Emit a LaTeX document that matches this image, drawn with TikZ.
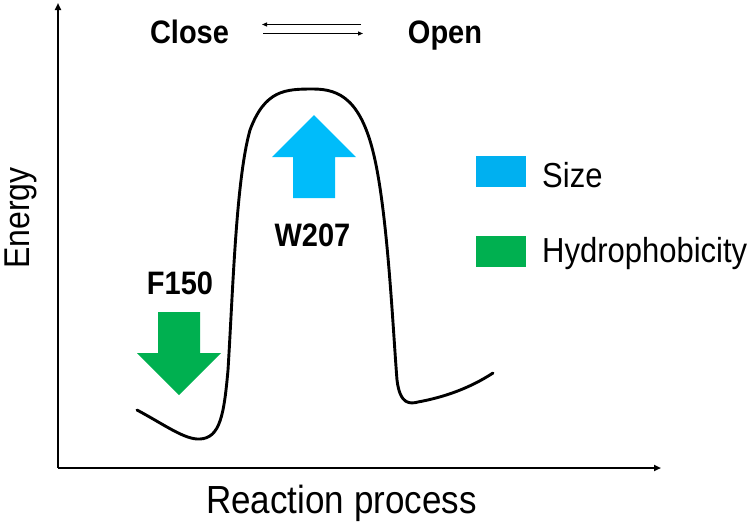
\documentclass[tikz,border=0pt]{standalone}
\usepackage{fontspec}
\usepackage{graphicx}
\setmainfont{Liberation Sans}
\usetikzlibrary{arrows.meta}
\definecolor{arrowblue}{HTML}{00BCFA}
\definecolor{legblue}{HTML}{00B0F0}
\definecolor{leggreen}{HTML}{00B050}
\newcommand{\talltext}[1]{\scalebox{1}[1.12]{#1}}
\tikzset{
  axis/.style={line width=1.8pt,-{Triangle[length=7pt,width=6pt]}},
  eqarrow/.style={line width=1.2pt,-{Triangle[length=5pt,width=4pt]}},
  curve/.style={line width=2.9pt,line join=round,line cap=round},
  boldlbl/.style={inner sep=0pt,anchor=base,font=\bfseries\fontsize{29}{31}\selectfont},
  leglbl/.style={inner sep=0pt,anchor=base west,font=\fontsize{31}{33}\selectfont},
  axlbl/.style={inner sep=0pt,font=\fontsize{35}{37}\selectfont},
}
\begin{document}
\begin{tikzpicture}[x=1pt,y=-1pt]
\useasboundingbox (0,0) rectangle (753,523);
% axes
\coordinate (O) at (58,468);
\coordinate (ytop) at (58,3);
\coordinate (xend) at (661,468);
\draw[axis] (O) -- (ytop);
\draw[axis] (O) -- (xend);
\node[axlbl,anchor=base west] (xl) at (206,513) {\talltext{Reaction process}};
\node[axlbl,rotate=90,anchor=base,font=\fontsize{32}{34}\selectfont] (yl) at (30,218) {\talltext{Energy}};
% title
\node[boldlbl] (close) at (189.5,43) {\talltext{Close}};
\node[boldlbl] (open) at (445,43) {\talltext{Open}};
\coordinate (a1s) at (361,24.5);
\coordinate (a1e) at (262,24.5);
\coordinate (a2s) at (263,33.5);
\coordinate (a2e) at (363,33.5);
\draw[eqarrow] (a1s) -- (a1e);
\draw[eqarrow] (a2s) -- (a2e);
% energy curve
\draw[curve] (137,410) .. controls (165,425) and (185,440) .. (200,439)
  .. controls (220,438) and (224,415) .. (228,370)
  .. controls (233,290) and (236,180) .. (250,130)
  .. controls (265,90) and (285,89) .. (313,89)
  .. controls (340,89) and (362,100) .. (375,160)
  .. controls (388,220) and (393,330) .. (397,380)
  .. controls (400,405) and (410,404) .. (418,402)
  .. controls (445,397) and (470,388) .. (493,373);
% arrows
\fill[leggreen] (158,312) -- (200,312) -- (200,353) -- (221,353) -- (179,395) -- (137,353) -- (158,353) -- cycle;
\fill[arrowblue] (293,198) -- (335,198) -- (335,157) -- (356,157) -- (314,115) -- (272,157) -- (293,157) -- cycle;
\node[boldlbl] (f150) at (180,294) {\talltext{F150}};
\node[boldlbl] (w207) at (312.5,246) {\talltext{W207}};
% legend
\fill[legblue] (476,156) rectangle (526,187);
\fill[leggreen] (476,236) rectangle (526,267);
\node[leglbl] (size) at (542,187) {\talltext{Size}};
\node[leglbl] (hyd) at (542,262) {\talltext{Hydrophobicity}};
\end{tikzpicture}
\end{document}
